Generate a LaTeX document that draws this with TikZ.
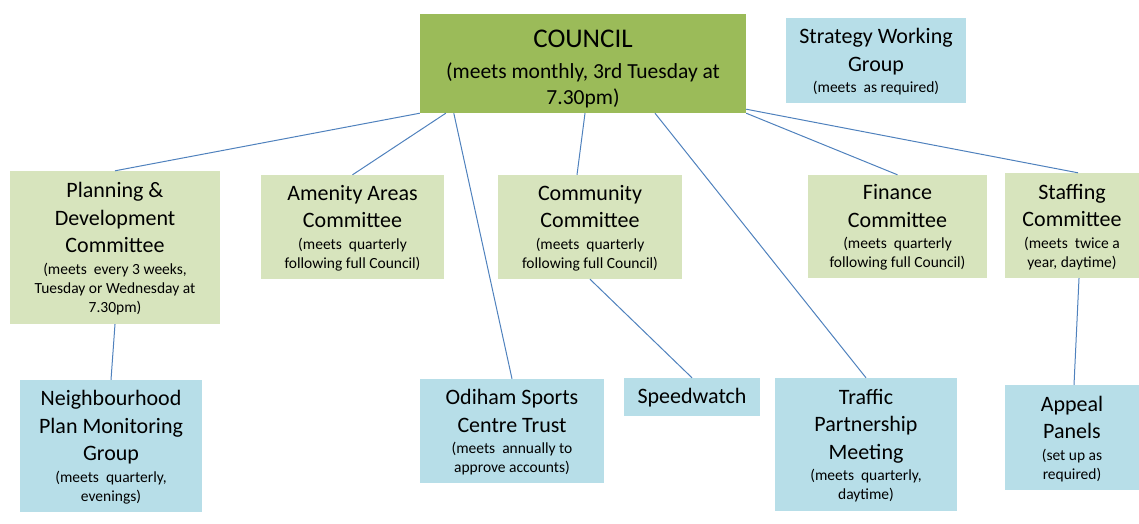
\documentclass[tikz,border=0pt]{standalone}
\usepackage{fontspec}
\setmainfont{Carlito}
\definecolor{councilgreen}{HTML}{9BBB59}
\definecolor{compgreen}{HTML}{D7E4BD}
\definecolor{groupblue}{HTML}{B7DEE8}
\definecolor{linkblue}{HTML}{4F81BD}
% body text of the boxes; titles are set larger with \ttl
\newcommand\smallsz{\fontsize{15.5}{19}\selectfont\lineskiplimit=-100pt\relax}
\newcommand\councilsz{\fontsize{21.5}{26.5}\selectfont\lineskiplimit=-100pt\relax}
\newcommand\ttl[1]{{\fontsize{22}{27}\selectfont\rule{0pt}{17.5pt}#1}}
\begin{document}
\begin{tikzpicture}[x=1pt,y=-1pt,
  box/.style={inner sep=0pt, align=center, text=black, font=\smallsz},
  committee/.style={box, fill=compgreen},
  group/.style={box, fill=groupblue},
  link/.style={draw=linkblue, line width=1pt}]
\useasboundingbox (0,0) rectangle (1139,523);

% top level
\node[box, fill=councilgreen, minimum width=326pt, minimum height=99pt, font=\councilsz]
  (council) at (583,63.5)
  {{\fontsize{27}{30}\selectfont\rule{0pt}{28pt}COUNCIL}\\[4.5pt](meets monthly, 3rd Tuesday at\\7.30pm)};
\node[group, minimum width=180pt, minimum height=85pt] (strategy) at (876,60.5)
  {\ttl{Strategy Working}\\[8.5pt]\ttl{Group}\\[2.5pt](meets~ as required)};

% committees
\node[committee, minimum width=210pt, minimum height=153pt] (planning) at (115,247.5)
  {\ttl{Planning \&}\\[8.5pt]\ttl{Development}\\[8.5pt]\ttl{Committee}\\[2.5pt](meets~ every 3 weeks,\\Tuesday or Wednesday at\\7.30pm)};
\node[committee, minimum width=183pt, minimum height=104pt] (amenity) at (352.5,227)
  {\ttl{Amenity Areas}\\[8.5pt]\ttl{Committee}\\[2.5pt](meets~ quarterly\\following full Council)};
\node[committee, minimum width=184pt, minimum height=104pt] (community) at (590,227)
  {\ttl{Community}\\[8.5pt]\ttl{Committee}\\[2.5pt](meets~ quarterly\\following full Council)};
\node[committee, minimum width=179pt, minimum height=103pt] (finance) at (897.5,226.5)
  {\ttl{Finance}\\[8.5pt]\ttl{Committee}\\[2.5pt](meets~ quarterly\\following full Council)};
\node[committee, minimum width=134pt, minimum height=105pt] (staffing) at (1072,225.5)
  {\ttl{Staffing}\\[8.5pt]\ttl{Committee}\\[2.5pt](meets~ twice a\\year, daytime)};

% groups and panels
\node[group, minimum width=182pt, minimum height=132pt] (neigh) at (111,446)
  {\ttl{Neighbourhood}\\[8.5pt]\ttl{Plan Monitoring}\\[8.5pt]\ttl{Group}\\[2.5pt](meets~ quarterly,\\evenings)};
\node[group, minimum width=184pt, minimum height=104pt] (odiham) at (512,431)
  {\ttl{Odiham Sports}\\[8.5pt]\ttl{Centre Trust}\\[2.5pt](meets~ annually to\\approve accounts)};
\node[group, minimum width=136pt, minimum height=38pt] (speedwatch) at (692,397)
  {\ttl{Speedwatch}};
\node[group, minimum width=182pt, minimum height=133pt] (traffic) at (866,444.5)
  {\ttl{Traffic}\\[8.5pt]\ttl{Partnership}\\[8.5pt]\ttl{Meeting}\\[2.5pt](meets~ quarterly,\\daytime)};
\node[group, minimum width=134pt, minimum height=105pt] (appeal) at (1072,437.5)
  {\ttl{Appeal}\\[8.5pt]\ttl{Panels}\\[2.5pt](set up as\\required)};

% reporting lines
\draw[link] (council.south west) -- (planning.north);
\draw[link] ([xshift=26pt]council.south west) -- (amenity.north);
\draw[link] ([xshift=34pt]council.south west) -- (odiham.north);
\draw[link] ([xshift=2pt]council.south) -- ([xshift=-13pt]community.north);
\draw[link] ([xshift=72pt]council.south) -- (traffic.north);
\draw[link] (council.south east) -- (finance.north);
\draw[link] ([yshift=4pt]council.south east) -- ([xshift=6pt]staffing.north);
\draw[link] (planning.south) -- (neigh.north);
\draw[link] (community.south) -- (speedwatch.north);
\draw[link] ([xshift=7pt]staffing.south) -- ([xshift=2pt]appeal.north);
\end{tikzpicture}
\end{document}
